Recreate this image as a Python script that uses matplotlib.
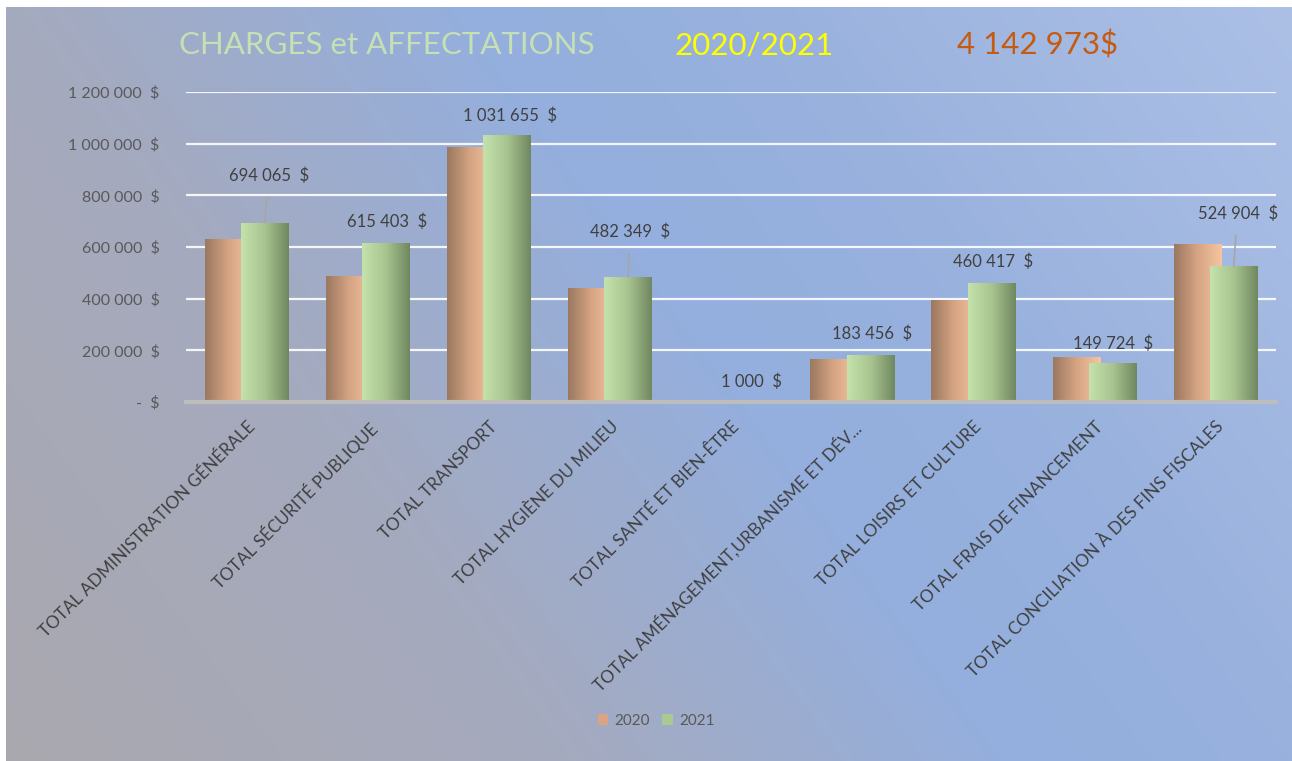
import numpy as np
import matplotlib
matplotlib.use("Agg")
import matplotlib.pyplot as plt
from matplotlib.patches import Patch

# ---------------- data ----------------
categories = [
    "TOTAL ADMINISTRATION GÉNÉRALE",
    "TOTAL SÉCURITÉ PUBLIQUE",
    "TOTAL TRANSPORT",
    "TOTAL HYGIÈNE DU MILIEU",
    "TOTAL SANTÉ ET BIEN-ÊTRE",
    "TOTAL AMÉNAGEMENT,URBANISME ET DÉV...",
    "TOTAL LOISIRS ET CULTURE",
    "TOTAL FRAIS DE FINANCEMENT",
    "TOTAL CONCILIATION À DES FINS FISCALES",
]
values_2020 = [631000, 488000, 987000, 441000, 0, 166000, 395000, 174000, 612000]
values_2021 = [694065, 615403, 1031655, 482349, 1000, 183456, 460417, 149724, 524904]
series_names = ["2020", "2021"]
y_ticks = [0, 200000, 400000, 600000, 800000, 1000000, 1200000]
title_parts = ["CHARGES et AFFECTATIONS", "2020/2021", "4 142 973$"]

# ---------------- style / layout ----------------
W, H = 1292, 761
label_dy = [47, 21, 20, 46, 20, 21, 21, 20, 53]   # pixels above 2021 bar top
label_dx = [4, 1, 3, 2, 2, 2, 2, 1, 4]
leader = [True, False, False, True, False, False, False, False, True]

plt.rcParams['font.family'] = ['Lato', 'DejaVu Sans']

fig = plt.figure(figsize=(W / 100, H / 100), dpi=100)
fig.patch.set_facecolor("white")

# background gradient
bg = fig.add_axes([6 / W, 0, 1 - 6 / W, 1 - 7 / H], zorder=-10)
bg.set_axis_off()
ny, nx = 120, 200
xx, yy = np.meshgrid(np.linspace(0, 1, nx), np.linspace(1, 0, ny))
t = 0.7 * xx + 0.3 * yy
stops = np.array([0, 0.3, 0.55, 0.7, 1.0])
cols = np.array([[170, 168, 175], [165, 170, 190], [148, 175, 222],
                 [152, 177, 221], [172, 192, 230]]) / 255.0
img = np.zeros((ny, nx, 3))
for c in range(3):
    img[..., c] = np.interp(t, stops, cols[:, c])
bg.imshow(img, aspect="auto", extent=(0, 1, 0, 1), interpolation="bilinear")

# main axes
ax = fig.add_axes([186 / W, 1 - 402 / H, (1276 - 186) / W, 310 / H])
ax.set_facecolor("none")
x = np.arange(len(categories))
bw = 0.39
off = 0.15
bars20 = ax.bar(x - off, values_2020, width=bw, zorder=3, linewidth=0)
bars21 = ax.bar(x + off, values_2021, width=bw, zorder=4, linewidth=0)


def grad_fill(bar, stops_c, z):
    bx, by = bar.get_x(), bar.get_y()
    bwid, bh = bar.get_width(), bar.get_height()
    if bh <= 0:
        bar.set_visible(False)
        return
    sc = np.array(stops_c) / 255.0
    pos = np.linspace(0, 1, len(sc))
    s = np.linspace(0, 1, 64)
    g = np.stack([np.interp(s, pos, sc[:, c]) for c in range(3)], axis=-1)[None, :, :]
    im = ax.imshow(g, extent=(bx, bx + bwid, by, by + bh), aspect="auto",
                   zorder=z, interpolation="bilinear")
    im.set_clip_path(bar)
    bar.set_facecolor("none")


c2020 = [[155, 120, 96], [215, 165, 132], [245, 196, 160]]
c2021 = [[196, 226, 172], [168, 196, 144], [112, 136, 96]]
for b in bars20:
    grad_fill(b, c2020, 3)
for b in bars21:
    grad_fill(b, c2021, 4)

ax.set_xlim(-0.5, len(categories) - 0.5)
ax.set_ylim(0, 1200000)
ax.set_yticks(y_ticks)


def fmt(v):
    if v == 0:
        return "-  $"
    return f"{v:,.0f}".replace(",", " ") + "  $"


ax.set_yticklabels([fmt(v) for v in y_ticks], color="#595959", fontsize=11.5)
ax.tick_params(axis="y", length=0, pad=19)
ax.grid(axis="y", color="white", linewidth=1.6, alpha=0.9, zorder=1)
ax.set_axisbelow(True)
for s in ["top", "right", "left"]:
    ax.spines[s].set_visible(False)
ax.spines["bottom"].set_color("#bdbdbd")
ax.spines["bottom"].set_linewidth(3)
ax.spines["bottom"].set_zorder(5)

ax.set_xticks(x)
ax.set_xticklabels(categories, rotation=45, ha="right", va="top",
                   rotation_mode="anchor", color="#404040", fontsize=12.3)
ax.tick_params(axis="x", length=0, pad=12)

# data labels
for i, b in enumerate(bars21):
    v = values_2021[i]
    xc = b.get_x() + b.get_width() / 2
    lbl = fmt(v)
    if leader[i]:
        ax.annotate(lbl, xy=(xc, v), xytext=(label_dx[i], label_dy[i]),
                    textcoords="offset pixels", ha="center", va="center",
                    fontsize=12, color="#404040", zorder=6,
                    arrowprops=dict(arrowstyle="-", color="#a6a6a6", lw=1.2,
                                    shrinkA=8, shrinkB=0))
    else:
        ax.annotate(lbl, xy=(xc, v), xytext=(label_dx[i], label_dy[i]),
                    textcoords="offset pixels", ha="center", va="center",
                    fontsize=12, color="#404040", zorder=6)

# title
fig.text(179 / W, 1 - 45 / H, title_parts[0], color="#c5e0b4", fontsize=22.5,
         ha="left", va="center")
fig.text(674 / W, 1 - 45 / H, title_parts[1], color="#ffff00", fontsize=22.5,
         ha="left", va="center")
fig.text(957 / W, 1 - 45 / H, title_parts[2], color="#c55a11", fontsize=22.5,
         ha="left", va="center")

# legend
handles = [Patch(facecolor="#d9a384", edgecolor="none"),
           Patch(facecolor="#a9c991", edgecolor="none")]
fig.legend(handles, series_names, loc="center",
           bbox_to_anchor=(656 / W, 1 - 721 / H), ncol=2, frameon=False,
           fontsize=11, labelcolor="#595959", handlelength=0.7,
           handleheight=0.7, handletextpad=0.4, columnspacing=0.8)

fig.savefig("out.png", dpi=100)
